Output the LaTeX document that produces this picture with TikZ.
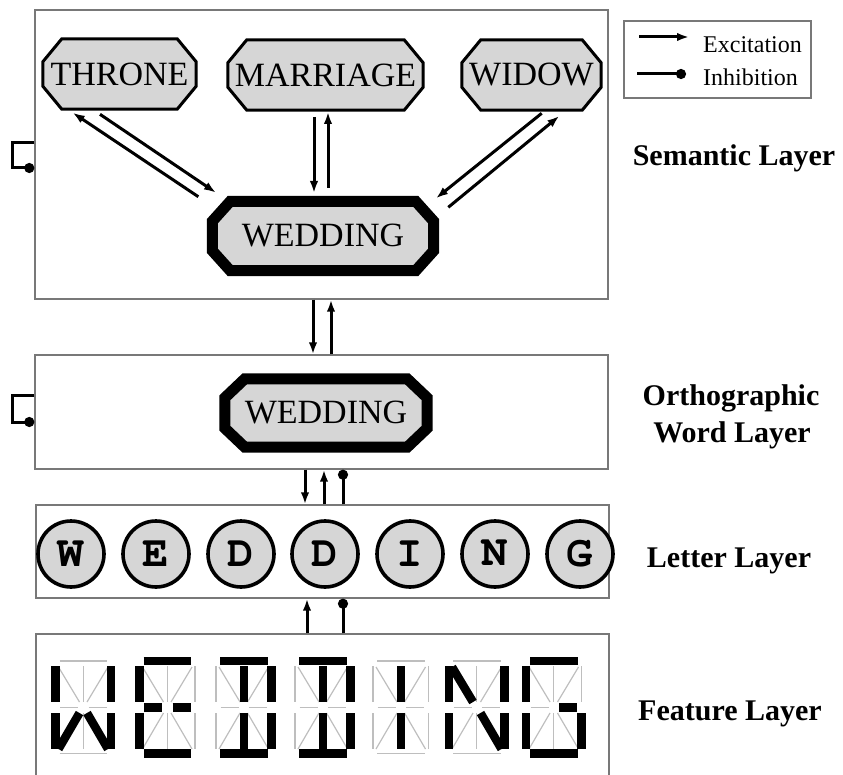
\documentclass[tikz,border=0pt]{standalone}
\usepackage{fontspec}
\setmainfont{Liberation Serif}
\usetikzlibrary{arrows.meta,calc,backgrounds}
\definecolor{lgray}{RGB}{214,214,214}
\definecolor{boxgray}{RGB}{120,120,120}
\definecolor{seggray}{RGB}{190,190,190}
\newcommand{\courierbold}{\fontencoding{OT1}\fontfamily{pcr}\fontseries{b}\fontshape{n}\selectfont}
\tikzset{
  layerbox/.style={rectangle,draw=boxgray,line width=1.4pt,inner sep=0pt},
  octnode/.style={inner sep=0pt,font=\fontsize{34}{34}\selectfont},
  thinoct/.style={draw=black,fill=lgray,line width=3pt,line join=miter},
  thickoct/.style={draw=black,fill=lgray,line width=11pt,line join=miter},
  exc/.style={line width=3pt,-{Latex[length=12pt,width=8.5pt]}},
  inh/.style={line width=3pt,-{Circle[length=10pt]}},
  lettnode/.style={circle,draw,line width=3.6pt,fill=lgray,minimum size=66pt,inner sep=0pt,font=\fontsize{44}{44}\courierbold},
  layerlabel/.style={font=\fontsize{30}{36}\selectfont\bfseries,anchor=base,inner sep=0pt},
  legtext/.style={font=\fontsize{24}{24}\selectfont,anchor=base west,inner sep=0pt},
  onseg/.style={line width=8.5pt,black},
  offseg/.style={line width=1.2pt,seggray}
}
% octagon around a node: node, chamfer x, chamfer y, style
\newcommand{\octdraw}[4]{%
  \path[#4] ([xshift=#2]#1.north west) -- ([xshift=-#2]#1.north east) -- ([yshift=-#3]#1.north east) -- ([yshift=#3]#1.south east) -- ([xshift=-#2]#1.south east) -- ([xshift=#2]#1.south west) -- ([yshift=#3]#1.south west) -- ([yshift=-#3]#1.north west) -- cycle;}
% 14-segment display pieces, #1 = left column x, #2 = style
\def\fsT#1#2{\draw[#2] (#1+4,661) -- (#1+51.5,661);}
\def\fsB#1#2{\draw[#2] (#1+4,753.5) -- (#1+51.5,753.5);}
\def\fsUL#1#2{\draw[#2] (#1,666) -- (#1,702);}
\def\fsLL#1#2{\draw[#2] (#1,713) -- (#1,749);}
\def\fsUR#1#2{\draw[#2] (#1+55.5,666) -- (#1+55.5,702);}
\def\fsLR#1#2{\draw[#2] (#1+55.5,713) -- (#1+55.5,749);}
\def\fsML#1#2{\draw[#2] (#1+4.5,707.5) -- (#1+22.5,707.5);}
\def\fsMR#1#2{\draw[#2] (#1+33,707.5) -- (#1+51,707.5);}
\def\fsUC#1#2{\draw[#2] (#1+27.75,666) -- (#1+27.75,702);}
\def\fsLC#1#2{\draw[#2] (#1+27.75,713) -- (#1+27.75,749);}
\def\fsDUL#1#2{\draw[#2] (#1+3,667) -- (#1+24,702);}
\def\fsDUR#1#2{\draw[#2] (#1+52.5,667) -- (#1+31.5,702);}
\def\fsDLL#1#2{\draw[#2] (#1+24,713) -- (#1+3,749);}
\def\fsDLR#1#2{\draw[#2] (#1+31.5,713) -- (#1+52.5,749);}
\newcommand{\fchar}[2]{%
  \foreach \s in {T,B,UL,LL,UR,LR,ML,MR,UC,LC,DUL,DUR,DLL,DLR}{\csname fs\s\endcsname{#1}{offseg}}%
  \foreach \s in {#2}{\csname fs\s\endcsname{#1}{onseg}}}
\begin{document}
\begin{tikzpicture}[x=1pt,y=-1pt]
\useasboundingbox (0,0) rectangle (843,775);
\clip (0,0) rectangle (843,775);

% layer boxes
\node[layerbox,minimum width=573pt,minimum height=289pt] (sem) at (321.5,154.5) {};
\node[layerbox,minimum width=573pt,minimum height=114pt] (orth) at (321.5,412) {};
\node[layerbox,minimum width=573pt,minimum height=93pt] (let) at (322.5,551.5) {};
\node[layerbox,minimum width=573pt,minimum height=186pt] (feat) at (322.5,727) {};
\node[layerbox,minimum width=187pt,minimum height=77pt] (legend) at (717.5,59.5) {};

% semantic nodes
\node[octnode,minimum width=153pt,minimum height=70pt] (throne) at (119.5,74) {THRONE};
\node[octnode,minimum width=195pt,minimum height=70pt] (marriage) at (325.5,75) {MARRIAGE};
\node[octnode,minimum width=139pt,minimum height=70pt] (widow) at (531.5,75) {WIDOW};
\node[octnode,minimum width=221pt,minimum height=69pt] (wedsem) at (323,236) {WEDDING};
\node[octnode,minimum width=202pt,minimum height=68pt] (wedorth) at (326,413) {WEDDING};
\begin{pgfonlayer}{background}
\octdraw{throne}{19pt}{23pt}{thinoct}
\octdraw{marriage}{19pt}{23pt}{thinoct}
\octdraw{widow}{19pt}{23pt}{thinoct}
\octdraw{wedsem}{18pt}{20pt}{thickoct}
\octdraw{wedorth}{20pt}{19pt}{thickoct}
\end{pgfonlayer}

% semantic connections
\draw[exc] ($(wedsem.center)+(-124.7,-39.3)$) -- ($(throne.center)+(-46.8,38.7)$);
\draw[exc] ($(throne.center)+(-19.5,40.3)$) -- ($(wedsem.center)+(-107,-43.3)$);
\draw[exc] ($(marriage.center)+(-11.5,42)$) -- ($(wedsem.center)+(-9,-43)$);
\draw[exc] ($(wedsem.center)+(5,-48)$) -- ($(marriage.center)+(2.5,37)$);
\draw[exc] ($(widow.center)+(10.2,38.3)$) -- ($(wedsem.center)+(113,-37.7)$);
\draw[exc] ($(wedsem.center)+(125.3,-28.7)$) -- ($(widow.center)+(27.8,41)$);

% self inhibition loops
\draw[inh] ($(sem.west)+(0,-11.5)$) -- ++(-22,0) |- ($(sem.west)+(0,13.5)$);
\draw[inh] ($(orth.west)+(0,-17)$) -- ++(-22,0) |- ($(orth.west)+(0,10)$);

% between layers
\draw[exc] ($(sem.south)+(-8.5,0)$) -- ($(orth.north)+(-8.5,0)$);
\draw[exc] ($(orth.north)+(9.5,0)$) -- ($(sem.south)+(9.5,0)$);
\draw[exc] ($(orth.south)+(-16.5,0)$) -- ($(let.north)+(-17.5,0)$);
\draw[exc] ($(let.north)+(1.5,0)$) -- ($(orth.south)+(2.5,0)$);
\draw[inh] ($(let.north)+(20.5,0)$) -- ($(orth.south)+(21.5,0)$);
\draw[exc] ($(feat.north)+(-15.5,0)$) -- ($(let.south)+(-15.5,0)$);
\draw[inh] ($(feat.north)+(20.5,0)$) -- ($(let.south)+(20.5,0)$);

% letter layer
\node[lettnode] (l1) at (71,554) {W};
\node[lettnode] (l2) at (156,554) {E};
\node[lettnode] (l3) at (241,554) {D};
\node[lettnode] (l4) at (325,554) {D};
\node[lettnode] (l5) at (410,554) {I};
\node[lettnode] (l6) at (495,554) {N};
\node[lettnode] (l7) at (580,554) {G};

% feature layer
\fchar{55.5}{UL,UR,LL,LR,DLL,DLR}
\fchar{139.5}{T,UL,LL,ML,MR,B}
\fchar{216}{T,B,UR,LR,UC,LC}
\fchar{295}{T,B,UR,LR,UC,LC}
\fchar{373}{UC,LC}
\fchar{449}{UL,LL,UR,LR,DUL,DLR}
\fchar{526}{T,B,UL,LL,MR,LR}

% legend
\coordinate (lx1) at (639,37);
\coordinate (lx2) at (689,37);
\coordinate (li1) at (637,74);
\coordinate (li2) at (686,74);
\draw[exc] (lx1) -- (lx2);
\draw[inh] (li1) -- (li2);
\node[legtext] (lexc) at (703,53) {Excitation};
\node[legtext] (linh) at (703,86) {Inhibition};

% layer labels
\node[layerlabel] (lab1) at (734,166) {Semantic Layer};
\node[layerlabel] (lab2) at (731,405) {Orthographic};
\node[layerlabel] (lab3) at (732,442) {Word Layer};
\node[layerlabel] (lab4) at (729,567) {Letter Layer};
\node[layerlabel] (lab5) at (730,720) {Feature Layer};
\end{tikzpicture}
\end{document}
